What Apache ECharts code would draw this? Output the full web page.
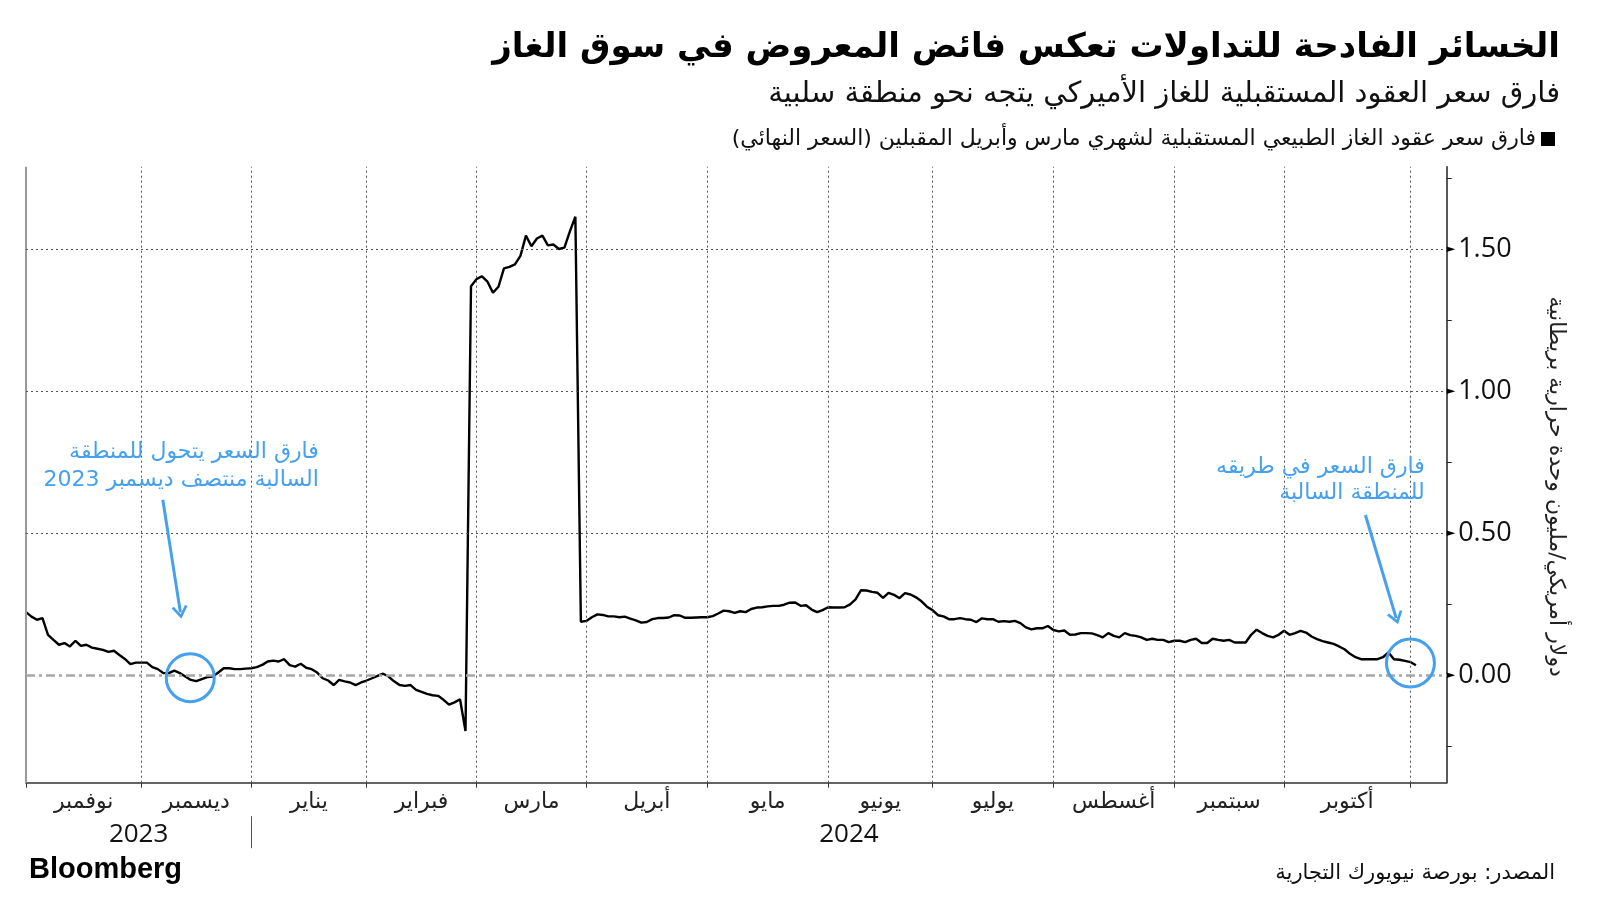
<!DOCTYPE html>
<html>
<head>
<meta charset="utf-8">
<script src="https://cdn.jsdelivr.net/npm/echarts@6.0.0/dist/echarts.min.js"></script>
<style>
html,body{margin:0;padding:0;background:#fff;}
#chart{width:1600px;height:900px;}
</style>
</head>
<body>
<div id="chart" dir="rtl"></div>
<script>
// ---- data ----
const monthNames = ['نوفمبر','ديسمبر','يناير','فبراير','مارس','أبريل','مايو','يونيو','يوليو','أغسطس','سبتمبر','أكتوبر'];
// trading-day index at which each month starts (Nov 2023 ... Nov 2024)
const monthStarts = [0,21,41,62,82,102,124,146,165,187,209,229,252];
const yearLabels = ['2023','2024'];
const yearStarts = [0,41];
const yTickLabels = [0, 0.5, 1, 1.5];
const yMinorTicks = [-0.25, 0, 0.25, 0.5, 0.75, 1, 1.25, 1.5, 1.75];
// Mar/Apr natural gas futures spread, USD/MMBtu, one value per trading day
const spread = [
0.221,0.205,0.194,0.200,0.141,0.123,0.106,0.112,0.100,0.120,
0.102,0.106,0.096,0.092,0.088,0.081,0.085,0.070,0.056,0.038,
0.043,0.043,0.043,0.027,0.020,0.006,0.006,0.015,0.006,-0.006,
-0.018,-0.022,-0.015,-0.008,-0.006,0.008,0.023,0.023,0.020,0.020,
0.022,0.023,0.027,0.035,0.047,0.050,0.047,0.055,0.034,0.029,
0.039,0.025,0.020,0.008,-0.012,-0.020,-0.036,-0.018,-0.023,-0.027,
-0.036,-0.027,-0.020,-0.012,-0.004,0.004,-0.006,-0.023,-0.036,-0.039,
-0.036,-0.053,-0.060,-0.067,-0.072,-0.074,-0.088,-0.105,-0.097,-0.086,
-0.198,1.369,1.394,1.404,1.385,1.346,1.367,1.432,1.437,1.446,
1.476,1.547,1.510,1.537,1.547,1.513,1.516,1.500,1.505,1.562,
1.614,0.187,0.190,0.203,0.213,0.211,0.206,0.206,0.203,0.205,
0.198,0.192,0.184,0.186,0.196,0.200,0.200,0.202,0.210,0.209,
0.201,0.201,0.202,0.203,0.203,0.207,0.216,0.226,0.224,0.218,
0.224,0.221,0.232,0.237,0.238,0.241,0.243,0.243,0.247,0.254,
0.255,0.243,0.245,0.230,0.221,0.228,0.238,0.237,0.237,0.238,
0.248,0.266,0.298,0.297,0.292,0.289,0.271,0.289,0.282,0.270,
0.288,0.283,0.273,0.259,0.240,0.228,0.210,0.206,0.196,0.196,
0.200,0.196,0.194,0.186,0.199,0.196,0.196,0.187,0.189,0.187,
0.190,0.182,0.167,0.160,0.164,0.164,0.172,0.158,0.153,0.156,
0.141,0.142,0.147,0.147,0.146,0.140,0.132,0.147,0.137,0.132,
0.147,0.140,0.137,0.132,0.123,0.127,0.123,0.123,0.115,0.120,
0.120,0.115,0.123,0.127,0.112,0.112,0.127,0.123,0.120,0.123,
0.114,0.114,0.114,0.141,0.159,0.147,0.137,0.132,0.141,0.155,
0.141,0.147,0.155,0.149,0.135,0.126,0.119,0.114,0.109,0.100,
0.090,0.074,0.062,0.055,0.055,0.055,0.055,0.062,0.079,0.055,
0.053,0.049,0.045,0.034
];

// ---- chart ----
const xMax = 258.6;
const blue = '#45a0ee';
const arFont = 'DejaVu Sans';
const numFont = 'Open Sans';

const monthMids = monthNames.map((_, k) => (monthStarts[k] + monthStarts[k + 1]) / 2);
const yearMids = yearStarts.map((s, k) => (s + (k + 1 < yearStarts.length ? yearStarts[k + 1] : xMax)) / 2);
function lookup(vals, names, v) {
  for (let k = 0; k < vals.length; k++) if (Math.abs(vals[k] - v) < 0.01) return names[k];
  return '';
}

const dotted = { color: '#555', width: 1, type: [2, 3] };
const chevron = 'path://M5,0 L10,8.6 L8.5,9.6 L5,3.4 L1.5,9.6 L0,8.6 Z';
const legendName = 'فارق سعر عقود الغاز الطبيعي المستقبلية لشهري مارس وأبريل المقبلين (السعر النهائي)';

const option = {
  animation: false,
  textStyle: { fontFamily: arFont },
  title: [
    { text: 'الخسائر الفادحة للتداولات تعكس فائض المعروض في سوق الغاز', right: 35, top: 26,
      textStyle: { fontSize: 34, fontWeight: 'bold', color: '#000', fontFamily: arFont } },
    { text: 'فارق سعر العقود المستقبلية للغاز الأميركي يتجه نحو منطقة سلبية', right: 35, top: 75,
      textStyle: { fontSize: 29, fontWeight: 'normal', color: '#111', fontFamily: arFont } },
    { text: 'المصدر: بورصة نيويورك التجارية', right: 40, top: 858,
      textStyle: { fontSize: 21, fontWeight: 'normal', color: '#111', fontFamily: arFont } },
    { text: 'Bloomberg', left: 24, top: 850,
      textStyle: { fontSize: 29, fontWeight: 'bold', color: '#000', fontFamily: 'Liberation Sans' } }
  ],
  legend: {
    right: 40, top: 123, align: 'right', itemWidth: 14, itemHeight: 14, itemGap: 8,
    icon: 'rect', selectedMode: false,
    textStyle: { fontSize: 22, color: '#111', fontFamily: arFont },
    data: [legendName]
  },
  grid: { left: 26, right: 153.3, top: 166.7, bottom: 117.3 },
  xAxis: [
    {
      type: 'value', min: 0, max: xMax, position: 'bottom',
      axisLine: { show: true, onZero: false, lineStyle: { color: '#333', width: 1.5 } },
      axisTick: { show: true, customValues: monthStarts, length: 5, lineStyle: { color: '#333', width: 1 } },
      axisLabel: { show: true, customValues: monthMids, margin: 9, fontSize: 22, color: '#222', fontFamily: arFont,
        formatter: v => lookup(monthMids, monthNames, v) },
      splitLine: { show: false }
    },
    {
      type: 'value', min: 0, max: xMax, position: 'bottom', offset: 33.5,
      axisLine: { show: false, onZero: false },
      axisTick: { show: true, customValues: [yearStarts[1]], length: 32, lineStyle: { color: '#555', width: 1 } },
      axisLabel: { show: true, customValues: yearMids, margin: 5, fontSize: 26, color: '#111', fontFamily: numFont,
        formatter: v => lookup(yearMids, yearLabels, v) },
      splitLine: { show: false }
    }
  ],
  yAxis: {
    type: 'value', min: -0.38, max: 1.79, position: 'right',
    name: 'دولار أمريكي/مليون وحدة حرارية بريطانية',
    nameLocation: 'middle', nameRotate: -90, nameGap: 98,
    nameTextStyle: { fontSize: 22, color: '#222', fontFamily: arFont, padding: [0, 0, 0, 24] },
    axisLine: { show: true, onZero: false, lineStyle: { color: '#222', width: 1.5 } },
    axisTick: { show: true, customValues: yMinorTicks, length: 5, lineStyle: { color: '#222', width: 1 } },
    axisLabel: {
      show: true, customValues: yTickLabels, margin: 0, fontSize: 27, color: '#111', fontFamily: numFont,
      formatter: v => '{t|►}' + v.toFixed(2),
      rich: { t: { fontSize: 11, color: '#000', fontFamily: 'DejaVu Sans', padding: [0, 3, 0, 0] } }
    },
    splitLine: { show: false }
  },
  series: [
    {
      // grid lines carrier
      type: 'line', name: 'grid', data: [], silent: true, z: 1,
      markLine: {
        silent: true, symbol: ['none', 'none'], label: { show: false }, animation: false,
        data: [
          { xAxis: 0, lineStyle: { color: '#999', width: 2, type: 'solid' } },
          ...monthStarts.slice(1).map(v => ({ xAxis: v, lineStyle: dotted })),
          ...yTickLabels.filter(v => v !== 0).map(v => ({ yAxis: v, lineStyle: dotted })),
          { yAxis: 0, lineStyle: { color: '#a6a6a6', width: 2.5, type: [9, 4, 3, 4] } }
        ]
      }
    },
    {
      type: 'line',
      name: legendName,
      data: spread.map((v, i) => [i, v]),
      showSymbol: false, symbol: 'none', z: 3,
      itemStyle: { color: '#000' },
      lineStyle: { color: '#000', width: 2.4 },
      markPoint: {
        silent: true, animation: false,
        data: [
          { coord: [29.9, -0.01], symbol: 'circle', symbolSize: 48,
            itemStyle: { color: 'rgba(0,0,0,0)', borderColor: blue, borderWidth: 3 }, label: { show: false } },
          { coord: [252, 0.042], symbol: 'circle', symbolSize: 48,
            itemStyle: { color: 'rgba(0,0,0,0)', borderColor: blue, borderWidth: 3 }, label: { show: false } },
          { coord: [53.3, 0.736], symbol: 'circle', symbolSize: 0,
            label: { show: true, position: 'inside', align: 'right', verticalAlign: 'middle', lineHeight: 28,
              fontSize: 22, color: blue, fontFamily: arFont,
              formatter: 'فارق السعر يتحول للمنطقة\nالسالبة منتصف ديسمبر 2023' } },
          { coord: [254.6, 0.684], symbol: 'circle', symbolSize: 0,
            label: { show: true, position: 'inside', align: 'right', verticalAlign: 'middle', lineHeight: 26,
              fontSize: 22, color: blue, fontFamily: arFont,
              formatter: 'فارق السعر في طريقه\nللمنطقة السالبة' } }
        ]
      },
      markLine: {
        silent: true, animation: false, symbol: ['none', chevron], symbolSize: [16, 13],
        label: { show: false },
        lineStyle: { color: blue, width: 3, type: 'solid' },
        data: [
          [{ coord: [24.9, 0.617] }, { coord: [28.1, 0.22] }],
          [{ coord: [243.8, 0.563] }, { coord: [249.4, 0.2] }]
        ]
      }
    }
  ]
};

const chart = echarts.init(document.getElementById('chart'), null, { renderer: 'canvas' });
chart.setOption(option);
</script>
</body>
</html>
